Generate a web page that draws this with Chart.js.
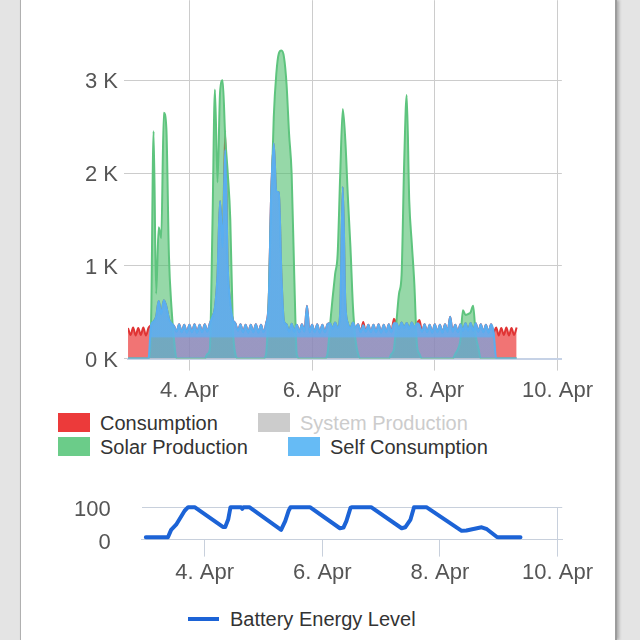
<!DOCTYPE html>
<html><head><meta charset="utf-8">
<script src="https://cdn.jsdelivr.net/npm/chart.js@4.4.1/dist/chart.umd.min.js"></script>
<style>
html,body{margin:0;padding:0;width:640px;height:640px;overflow:hidden;background:#e4e4e4;font-family:'Liberation Sans',Arial,sans-serif;}
#card{position:absolute;left:20px;top:0;width:594px;height:640px;background:#fff;border-left:1px solid #b0b0b0;border-right:2px solid #9c9c9c;box-shadow:2px 0 3px rgba(0,0,0,0.25);}
canvas{position:absolute;}
.box{position:absolute;width:32px;height:19px;}
.lab{position:absolute;font-size:20px;line-height:24px;color:#333;white-space:nowrap;}
</style></head><body>
<div id="card"></div>
<canvas id="c1"></canvas>
<canvas id="c2"></canvas>
<div class="box" style="left:58px;top:413px;background:#ec3a3a"></div>
<div class="lab" style="left:100px;top:411px">Consumption</div>
<div class="box" style="left:258px;top:413px;background:#cccccc"></div>
<div class="lab" style="left:300px;top:411px;color:#cccccc">System Production</div>
<div class="box" style="left:58px;top:437px;background:#6bcc89"></div>
<div class="lab" style="left:100px;top:435px">Solar Production</div>
<div class="box" style="left:288px;top:437px;background:#66bbf5"></div>
<div class="lab" style="left:330px;top:435px">Self Consumption</div>
<div style="position:absolute;left:188px;top:617px;width:31px;height:4px;background:#1c63d6"></div>
<div class="lab" style="left:230px;top:607px">Battery Energy Level</div>
<script>
// ---- data (hourly samples starting 3 Apr 00:00) ----
const consumption = [
 330,255,335,250,330,255,335,250,330,360,400,450,620,480,630,560,430,380,350,290,370,285,365,280,
 365,285,370,280,365,285,370,290,380,450,550,900,1700,1200,2450,1000,600,420,380,300,370,285,365,280,
 365,285,370,280,365,285,380,600,1780,2320,1800,1790,900,400,370,290,375,290,365,285,370,290,570,285,
 365,285,370,280,365,285,370,380,320,390,330,500,1850,600,380,330,390,330,370,285,395,290,365,285,
 365,285,370,280,365,285,370,285,430,380,320,390,330,385,320,390,330,380,415,290,370,285,365,280,
 370,285,365,280,370,290,450,290,365,285,370,300,380,300,385,300,380,290,370,285,365,280,370,285,
 335,250,330,255,335,250,330,255,335
];
const selfConsumption = [
 0,0,0,0,0,0,0,0,0,360,400,450,620,480,630,560,430,380,350,290,370,285,365,280,
 365,285,370,280,365,285,370,290,380,450,550,900,1700,1200,2250,1000,600,420,380,300,370,285,365,280,
 365,285,370,280,365,285,380,600,1780,2320,1800,1790,900,400,370,290,375,290,365,285,370,290,570,285,
 365,285,370,280,365,285,370,380,320,390,330,500,1850,600,380,330,390,330,370,285,360,290,365,285,
 365,285,370,280,365,285,370,285,380,380,320,390,330,385,320,390,330,380,360,290,370,285,365,280,
 370,285,365,280,370,290,450,290,365,285,370,300,380,300,385,300,380,290,370,285,365,280,370,285,
 0,0,0,0,0,0,0,0,0
];
const solarProduction = [
 0,0,0,0,0,0,0,0,0,350,2450,700,1416,1300,2650,2480,1110,550,200,0,0,0,0,0,
 0,0,0,0,0,0,0,50,100,1400,2900,1900,2870,3000,2400,2000,1500,350,50,0,0,0,0,0,
 0,0,0,0,0,0,50,600,1650,2600,3070,3290,3320,3250,2960,2420,1990,915,50,0,0,0,0,0,
 0,0,0,0,0,0,50,350,650,910,1130,1990,2690,2350,1740,1200,550,200,50,0,0,0,0,0,
 0,0,0,0,0,0,0,50,100,400,700,900,2100,2840,1700,1240,800,150,50,0,0,0,0,0,
 0,0,0,0,0,0,0,0,50,100,200,520,470,480,500,570,250,120,0,0,0,0,0,0,
 0,0,0,0,0,0,0,0,0
];
// battery level: time in days since 3 Apr 00:00, level in %
const batteryDays = [0,0.376,0.43,0.515,0.66,0.72,0.83,1.31,1.35,1.40,1.44,1.62,1.64,1.66,1.76,2.30,2.37,2.43,2.46,2.79,3.30,3.36,3.41,3.48,3.50,3.83,4.35,4.41,4.50,4.56,4.77,5.37,5.45,5.71,5.80,5.97,6.00,6.37];
const batteryLevel = [7,7,30,46,89,100,100,39,39,62,100,100,95,100,100,30,57,90,100,100,35,37,57,98,100,100,35,38,62,100,100,27,28,38,32,8,7,7];
// axis ticks
const xTickDays = [1,3,5,7];
const xTickLabels = ['4. Apr','6. Apr','8. Apr','10. Apr'];
const yTickValues = [0,1000,2000,3000];
const yTickLabels = ['0 K','1 K','2 K','3 K'];
const bTickValues = [0,100];
const bTickLabels = ['0','100'];

const FONT = "'Liberation Sans', Arial, sans-serif";
const sampleDays = consumption.map((_, i) => i / 24);
const toXY = vals => vals.map((v, i) => ({x: sampleDays[i], y: v}));

function selfFill(context) {
  const chart = context.chart;
  const area = chart.chartArea;
  if (!area || !chart.scales.y) return 'rgba(95,175,245,0.8)';
  const yPix = chart.scales.y.getPixelForValue(220);
  const g = chart.ctx.createLinearGradient(0, area.bottom, 0, area.top);
  const f = Math.min(Math.max((area.bottom - yPix) / (area.bottom - area.top), 0), 0.99);
  g.addColorStop(0, 'rgba(95,175,245,0.6)');
  g.addColorStop(f, 'rgba(95,175,245,0.6)');
  g.addColorStop(f + 0.005, 'rgba(95,175,245,0.9)');
  g.addColorStop(1, 'rgba(95,175,245,0.9)');
  return g;
}

function xAxisTicks(scale) { scale.ticks = xTickDays.map(v => ({value: v})); }
const xLabel = v => { const i = xTickDays.indexOf(v); return i >= 0 ? xTickLabels[i] : ''; };

function topConfig() {
  return {
    type: 'line',
    data: { datasets: [
      { label: 'Self Consumption', data: toXY(selfConsumption), order: 1, borderColor: '#5aaef0', borderWidth: 2, fill: 'origin', backgroundColor: selfFill },
      { label: 'Solar Production', data: toXY(solarProduction), order: 2, borderColor: '#5ec47e', borderWidth: 2, fill: 'origin', backgroundColor: 'rgba(80,190,110,0.6)' },
      { label: 'System Production', data: [], hidden: true, order: 4, borderColor: '#cccccc', backgroundColor: '#cccccc' },
      { label: 'Consumption', data: toXY(consumption), order: 3, borderColor: '#e03434', borderWidth: 2, fill: 'origin', backgroundColor: 'rgba(235,50,50,0.68)' }
    ]},
    options: {
      responsive: false, maintainAspectRatio: false, animation: false,
      layout: { padding: 0 },
      elements: { point: { radius: 0 }, line: { cubicInterpolationMode: 'monotone' } },
      plugins: { legend: { display: false }, tooltip: { enabled: false } },
      scales: {
        x: { type: 'linear', min: 0, max: 7.07, afterBuildTicks: xAxisTicks,
             ticks: { callback: xLabel, color: '#555', font: { size: 22, family: FONT }, padding: 7, maxRotation: 0, autoSkip: false },
             grid: { color: '#cccccc', tickColor: '#cccccc', tickLength: 12 },
             border: { color: '#c6d2e6', width: 2 } },
        y: { min: 0, max: 3863, afterBuildTicks: s => { s.ticks = yTickValues.map(v => ({value: v})); },
             ticks: { callback: v => yTickLabels[yTickValues.indexOf(v)], color: '#555', font: { size: 22, family: FONT }, padding: 6, labelOffset: 2 },
             grid: { color: '#cccccc', tickColor: '#cccccc', tickLength: 4 },
             border: { display: false } }
      }
    }
  };
}

function bottomConfig() {
  return {
    type: 'line',
    data: { datasets: [
      { label: 'Battery Energy Level', data: batteryDays.map((d, i) => ({x: d, y: batteryLevel[i]})),
        borderColor: '#1c63d6', borderWidth: 4, fill: false, tension: 0, clip: false,
        borderJoinStyle: 'round', borderCapStyle: 'round' }
    ]},
    options: {
      responsive: false, maintainAspectRatio: false, animation: false,
      layout: { padding: 0 },
      elements: { point: { radius: 0 } },
      plugins: { legend: { display: false }, tooltip: { enabled: false } },
      scales: {
        x: { type: 'linear', min: -0.07, max: 7.08, afterBuildTicks: xAxisTicks,
             ticks: { callback: xLabel, color: '#555', font: { size: 22, family: FONT }, padding: 3, maxRotation: 0, autoSkip: false },
             grid: { color: c => (c.tick && c.tick.value === 7) ? '#c8d0dc' : 'rgba(0,0,0,0)', tickColor: '#c8d0dc', tickLength: 17 },
             border: { color: '#c8d0dc', width: 1 } },
        y: { min: 0, max: 100, afterBuildTicks: s => { s.ticks = bTickValues.map(v => ({value: v})); },
             ticks: { callback: v => bTickLabels[bTickValues.indexOf(v)], color: '#555', font: { size: 22, family: FONT }, padding: 31, labelOffset: 3 },
             grid: { color: '#c8d0dc', drawTicks: false },
             border: { display: false } }
      }
    }
  };
}

function build(canvas, w, h, factory) {
  canvas.width = w; canvas.height = h;
  canvas.style.width = w + 'px'; canvas.style.height = h + 'px';
  return new Chart(canvas, factory());
}
function placeChart(id, want, factory, w0, h0) {
  const canvas = document.getElementById(id);
  let w = w0, h = h0;
  let chart = build(canvas, w, h, factory);
  for (let k = 0; k < 2; k++) {
    const a = chart.chartArea;
    w = Math.round(w + (want.right - want.left) - (a.right - a.left));
    h = Math.round(h + (want.bottom - want.top) - (a.bottom - a.top));
    chart.destroy();
    chart = build(canvas, w, h, factory);
  }
  const a = chart.chartArea;
  canvas.style.left = Math.round(want.left - a.left) + 'px';
  canvas.style.top = Math.round(want.top - a.top) + 'px';
  return chart;
}
placeChart('c1', {left: 128, right: 561.6, top: 0, bottom: 358}, topConfig, 640, 420);
placeChart('c2', {left: 142, right: 562, top: 507.5, bottom: 539.5}, bottomConfig, 640, 110);
</script>
</body></html>
